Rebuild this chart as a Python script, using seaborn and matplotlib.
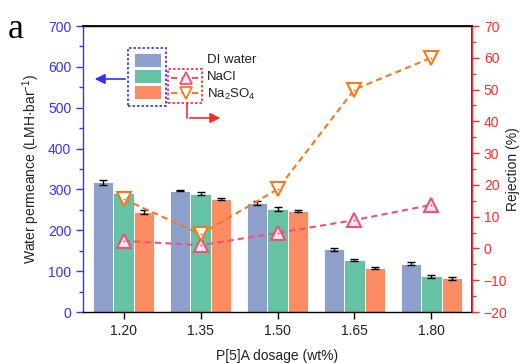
import numpy as np
import pandas as pd
import matplotlib
matplotlib.use("Agg")
import matplotlib.pyplot as plt
from matplotlib.patches import Rectangle, FancyArrowPatch
from matplotlib.lines import Line2D
from matplotlib.ticker import MultipleLocator
import seaborn as sns

# ---- data ----
dosages = ["1.20", "1.35", "1.50", "1.65", "1.80"]
feeds = ["DI water", "NaCl", "Na$_2$SO$_4$"]
perm_di = [317, 297, 267, 153, 118]
perm_nacl = [291, 290, 252, 127, 87]
perm_na2so4 = [245, 276, 247, 107, 82]
err_di = [5, 2, 5, 3, 4]
err_nacl = [3, 4, 4, 3, 4]
err_na2so4 = [4, 2, 3, 2, 3]
rej_nacl = [2.4, 1.0, 4.9, 8.9, 13.7]
rej_na2so4 = [15.5, 4.5, 18.6, 50.0, 60.0]

bar_colors = ["#8da0cb", "#66c2a5", "#fc8d62"]
c_nacl = "#f0507a"
c_na2so4 = "#f57a1c"
c_left = "#3232ff"
c_right = "#ff2a2a"

sns.set_theme(style="white")
plt.rcParams["font.family"] = ["Liberation Sans", "DejaVu Sans"]
plt.rcParams["mathtext.fontset"] = "custom"
plt.rcParams["mathtext.rm"] = "Liberation Sans"
plt.rcParams["mathtext.it"] = "Liberation Sans:italic"

W, H = 523, 363
fig = plt.figure(figsize=(W / 100, H / 100), dpi=100)
ax = fig.add_axes([83 / W, 1 - 312 / H, (472 - 83) / W, (312 - 26) / H])

df = pd.DataFrame({
    "dosage": dosages * 3,
    "feed": [feeds[0]] * 5 + [feeds[1]] * 5 + [feeds[2]] * 5,
    "perm": perm_di + perm_nacl + perm_na2so4,
})
sns.barplot(data=df, x="dosage", y="perm", hue="feed", order=dosages,
            hue_order=feeds, palette=bar_colors, saturation=1,
            errorbar=None, width=0.8, edgecolor="white", linewidth=0.6,
            legend=False, ax=ax)

for cont, vals, errs in zip(ax.containers, [perm_di, perm_nacl, perm_na2so4],
                            [err_di, err_nacl, err_na2so4]):
    xs = [p.get_x() + p.get_width() / 2 for p in cont.patches]
    ax.errorbar(xs, vals, yerr=errs, fmt="none", ecolor="black",
                elinewidth=1.0, capsize=3, capthick=1.0, zorder=5)

ax.set_xlim(-0.53, 4.53)
ax.set_ylim(0, 700)
ax.yaxis.set_major_locator(MultipleLocator(100))
ax.yaxis.set_minor_locator(MultipleLocator(50))
ax.set_xlabel("P[5]A dosage (wt%)", fontsize=10, color="#222222", labelpad=8)
ax.set_ylabel("Water permeance (LMH·bar$^{-1}$)", fontsize=10,
              color="#222222", labelpad=4)
ax.tick_params(axis="y", which="both", direction="out", colors=c_left,
               labelsize=10, left=True)
ax.tick_params(axis="y", which="major", length=5, width=1)
ax.tick_params(axis="y", which="minor", length=3, width=1)
ax.tick_params(axis="x", direction="out", length=5, width=1, colors="black",
               labelsize=10, labelcolor="#222222", bottom=True)
for s in ["top", "bottom"]:
    ax.spines[s].set_color("black")
    ax.spines[s].set_linewidth(1.0)
ax.spines["left"].set_color(c_left)
ax.spines["left"].set_linewidth(1.0)

ax2 = ax.twinx()
xpos = np.arange(len(dosages))
sns.lineplot(x=xpos, y=rej_nacl, ax=ax2, color=c_nacl, linestyle=(0, (3, 2)),
             linewidth=1.5, marker="^", markersize=10, markerfacecolor="#ffe6ee",
             markeredgecolor=c_nacl, markeredgewidth=1.5)
sns.lineplot(x=xpos, y=rej_na2so4, ax=ax2, color=c_na2so4,
             linestyle=(0, (3, 2)), linewidth=1.5, marker="v", markersize=10,
             markerfacecolor="white", markeredgecolor=c_na2so4,
             markeredgewidth=1.5)
# small centre dots inside the hollow markers
sns.scatterplot(x=xpos, y=rej_nacl, ax=ax2, color=c_nacl, s=2, linewidth=0,
                zorder=6)
sns.scatterplot(x=xpos, y=rej_na2so4, ax=ax2, color=c_na2so4, s=2,
                linewidth=0, zorder=6)
ax2.set_ylim(-20, 70)
ax2.yaxis.set_major_locator(MultipleLocator(10))
ax2.yaxis.set_minor_locator(MultipleLocator(5))
ax2.set_ylabel("Rejection (%)", fontsize=10, color="#222222")
ax2.yaxis.set_label_coords((506 - 83) / (472 - 83), 0.5)
ax2.tick_params(axis="y", which="both", direction="out", colors=c_right,
                labelsize=10, right=True)
ax2.tick_params(axis="y", which="major", length=5, width=1)
ax2.tick_params(axis="y", which="minor", length=3, width=1)
ax2.spines["right"].set_color(c_right)
ax2.spines["right"].set_linewidth(1.0)
ax2.spines["left"].set_visible(False)
ax2.spines["top"].set_color("black")
ax2.spines["bottom"].set_visible(False)
ax2.set_xlim(-0.53, 4.53)

# ---- hand-built legend with grouping boxes and axis arrows ----
def px(x, y):
    return (x / W, 1 - y / H)

tf = fig.transFigure
x0, y0 = px(128, 106)
x1, y1 = px(166, 48)
fig.add_artist(Rectangle((x0, y0), x1 - x0, y1 - y0, transform=tf,
                         fill=False, edgecolor=c_left, linestyle=(0, (1.5, 1.2)),
                         linewidth=1.2))
for col, (ya, yb) in zip(bar_colors, [(53, 67), (69, 83), (85, 99)]):
    a0, b0 = px(134, yb)
    a1, b1 = px(161, ya)
    fig.add_artist(Rectangle((a0, b0), a1 - a0, b1 - b0, transform=tf,
                             facecolor=col, edgecolor="white", linewidth=0.6))
fig.add_artist(FancyArrowPatch(px(128, 79), px(92, 79), transform=tf,
                               arrowstyle="-|>,head_length=4,head_width=2",
                               color=c_left, linewidth=1.2, mutation_scale=1.5))

x0, y0 = px(168, 103)
x1, y1 = px(202, 69)
fig.add_artist(Rectangle((x0, y0), x1 - x0, y1 - y0, transform=tf,
                         fill=False, edgecolor=c_right,
                         linestyle=(0, (1.5, 1.2)), linewidth=1.2))
for col, mk, fc, yy in [(c_nacl, "^", "#ffe6ee", 78), (c_na2so4, "v", "white", 93)]:
    a, b = px(171, yy)
    c, d = px(200, yy)
    fig.add_artist(Line2D([a, c], [b, d], transform=tf, color=col,
                          linestyle=(0, (3, 2)), linewidth=1.5))
    m = px(185.5, yy)
    fig.add_artist(Line2D([m[0]], [m[1]], transform=tf, marker=mk,
                          markersize=8, markerfacecolor=fc,
                          markeredgecolor=col, markeredgewidth=1.3,
                          linestyle="none"))
a, b = px(187, 103)
c, d = px(187, 118)
fig.add_artist(Line2D([a, c], [b, d], transform=tf, color=c_right, linewidth=1.2))
fig.add_artist(FancyArrowPatch(px(187, 118), px(223, 118), transform=tf,
                               arrowstyle="-|>,head_length=4,head_width=2",
                               color=c_right, linewidth=1.2, mutation_scale=1.5))

for lbl, yy in zip(feeds, [60, 77, 94]):
    fig.text(*px(207, yy), lbl, fontsize=9.5, color="#222222", va="center",
             ha="left")

fig.text(*px(8, 38), "a", fontsize=26, family=["Liberation Serif", "DejaVu Serif"],
         color="black", va="baseline", ha="left")

fig.savefig("out.png", dpi=100)
